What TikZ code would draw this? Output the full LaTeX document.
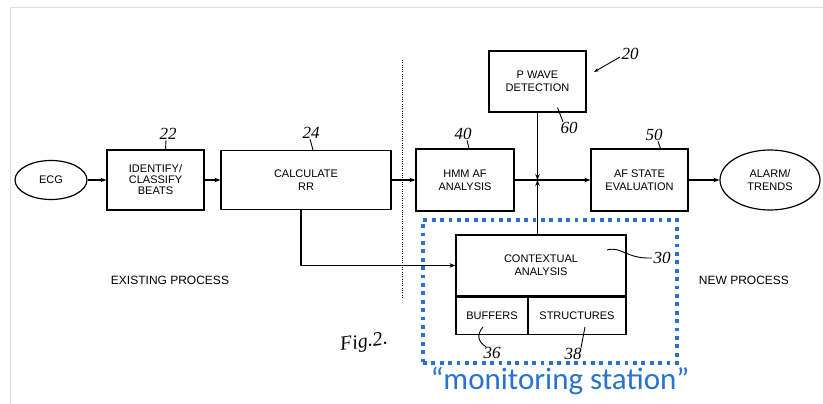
\documentclass[tikz,border=0pt]{standalone}
\usepackage{fontspec}
\setmainfont{Liberation Sans}
\newfontfamily\cali{Carlito}
\newfontfamily\hand{Liberation Serif}
\usetikzlibrary{arrows.meta,shapes.geometric}
\definecolor{msblue}{RGB}{40,115,205}
\begin{document}
\begin{tikzpicture}[x=1pt,y=-1pt,
  box/.style={draw, line width=1.2pt, align=center, inner sep=0pt, font=\fontsize{11}{13}\selectfont},
  oval/.style={box, ellipse},
  arr/.style={line width=1.2pt, -{Stealth[length=6pt,width=4.5pt]}},
  lead/.style={line width=0.9pt},
  num/.style={font=\hand\itshape\fontsize{17}{17}\selectfont},
  plain/.style={font=\fontsize{12}{14}\selectfont}]
\useasboundingbox (0,0) rectangle (823,404);
\draw[black!12, line width=0.8pt] (10,404) -- (10,7) -- (823,7);

% main row
\node[oval, minimum width=72pt, minimum height=39pt] (ecg) at (51,180) {ECG};
\node[box, minimum width=97pt, minimum height=60pt, font=\fontsize{11}{11}\selectfont] (id) at (155.5,180) {IDENTIFY/\\CLASSIFY\\BEATS};
\node[box, minimum width=170pt, minimum height=59pt] (rr) at (306,180) {CALCULATE\\RR};
\node[box, minimum width=98pt, minimum height=62pt] (hmm) at (465,180) {HMM AF\\ANALYSIS};
\node[box, minimum width=97pt, minimum height=61pt] (pw) at (537.5,81.5) {P WAVE\\DETECTION};
\node[box, minimum width=97pt, minimum height=62pt] (af) at (639.5,180) {AF STATE\\EVALUATION};
\node[oval, minimum width=100pt, minimum height=60pt] (al) at (770,180) {ALARM/\\TRENDS};

% contextual block
\node[box, minimum width=170pt, minimum height=61pt] (ctx) at (541,265.5) {CONTEXTUAL\\ANALYSIS};
\node[box, minimum width=72pt, minimum height=37pt, anchor=north west] (buf) at (ctx.south west) {BUFFERS};
\node[box, minimum width=98pt, minimum height=37pt, anchor=north east] (str) at (ctx.south east) {STRUCTURES};

% connectors
\coordinate (j) at (pw.south |- hmm.east);
\draw[arr] (ecg) -- (id);
\draw[arr] (id) -- (rr);
\draw[arr] (rr) -- (hmm);
\draw[arr] (hmm) -- (af);
\draw[arr] (af) -- (al);
\draw[arr] (pw) -- (j);
\draw[arr] (ctx.north -| j) -- (j);
\draw[arr] ([xshift=-5pt]rr.south) |- (ctx.west);

% dotted divider
\coordinate (d1) at (402,60);
\coordinate (d2) at (402,297);
\draw[line width=0.9pt, dash pattern=on 1pt off 1.3pt] (d1) -- (d2);

% monitoring station frame
\node[draw=msblue, line width=3.8pt, dash pattern=on 3.8pt off 4.6pt, minimum width=254pt, minimum height=143pt, inner sep=0pt] (ms) at (550,291.5) {};
\node[font=\cali\fontsize{31}{31}\selectfont, text=msblue] (mslabel) at (560,381) {“monitoring station”};

% process labels
\node[plain] (ex) at (170,280) {EXISTING PROCESS};
\node[plain] (np) at (744,280) {NEW PROCESS};

% reference numerals
\node[num] (n22) at (168,134) {22};
\draw[lead] ([xshift=-2pt,yshift=3pt]n22.south) -- ([xshift=10pt]id.north);
\node[num] (n24) at (311,133) {24};
\draw[lead] ([xshift=-1pt,yshift=3pt]n24.south) -- ([xshift=7pt]rr.north);
\node[num] (n40) at (463,134) {40};
\draw[lead] ([xshift=4pt,yshift=3pt]n40.south) -- ([xshift=4pt]hmm.north);
\node[num] (n50) at (654,135) {50};
\draw[lead] ([xshift=4pt,yshift=3pt]n50.south) -- ([xshift=21pt]af.north);
\node[num] (n60) at (569,128) {60};
\draw[lead] ([xshift=20pt,yshift=5pt]pw.south) -- ([xshift=-6pt,yshift=-3pt]n60.north);
\node[num] (n20) at (630,54) {20};
\coordinate (a20) at (594,72);
\draw[lead, -{Stealth[length=5pt,width=3.5pt]}] ([xshift=2pt,yshift=-3pt]n20.west) -- (a20);
\node[num] (n30) at (662,258) {30};
\coordinate (l30) at (607,250);
\draw[lead] (l30) .. controls (622,246) and (626,259) .. ([xshift=2pt]n30.west);
\node[num] (n36) at (492,353) {36};
\coordinate (l36) at (483,327);
\draw[lead] (l36) .. controls (477,334) and (477,341) .. ([xshift=-6pt,yshift=-3pt]n36.north);
\node[num] (n38) at (573,354) {38};
\coordinate (l38) at (585,327);
\draw[lead] (l38) -- ([xshift=8pt,yshift=-3pt]n38.north);
\node[font=\hand\itshape\fontsize{20}{20}\selectfont, rotate=8] (fig) at (364,343) {Fig.2.};
\end{tikzpicture}
\end{document}
